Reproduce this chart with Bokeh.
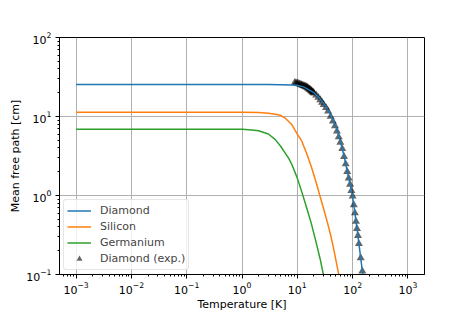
from bokeh.plotting import figure
from bokeh.models import Range1d, Legend, LegendItem, LogTicker
from bokeh.embed import file_html
from bokeh.resources import INLINE

# Diamond (model)
diamond_T = [0.001, 0.01, 0.1, 1, 3, 5, 8, 10, 13, 16, 20, 25, 30, 35, 40, 45, 50,
             60, 70, 80, 90, 100, 110, 120, 130, 140, 150, 160, 170]
diamond_L = [25.4, 25.4, 25.4, 25.4, 25.4, 25.3, 25.1, 24.8, 23.7, 21.9, 20.0, 17.2,
             14.6, 12.6, 10.5, 8.8, 7.4, 4.9, 3.16, 2.02, 1.38, 0.97, 0.60, 0.38,
             0.245, 0.162, 0.11, 0.076, 0.052]

# Silicon (model)
silicon_T = [0.001, 0.01, 0.1, 0.5, 1, 2, 3, 4, 5, 6, 8, 10, 12, 15, 18, 22, 26, 30,
             35, 40, 45, 50, 55, 60]
silicon_L = [11.3, 11.3, 11.3, 11.3, 11.3, 11.2, 11.0, 10.7, 10.35, 9.55, 7.85, 6.0,
             4.9, 3.3, 2.3, 1.45, 0.955, 0.676, 0.457, 0.316, 0.219, 0.151, 0.107, 0.078]

# Germanium (model)
germanium_T = [0.001, 0.01, 0.1, 0.5, 1, 1.5, 2, 3, 4, 5, 6, 7, 8, 10, 12, 15, 18, 22,
               26, 30, 34]
germanium_L = [6.9, 6.9, 6.9, 6.9, 6.88, 6.76, 6.6, 6.0, 5.1, 4.2, 3.47, 2.95, 2.45,
               1.66, 1.12, 0.676, 0.437, 0.251, 0.155, 0.0955, 0.063]

# Diamond (experiment)
exp_T = [9, 9.5, 10, 10.5, 11, 11.5, 12, 12.5, 13, 13.5, 14, 14.5, 15, 15.5, 16, 16.5,
         17, 17.5, 18, 18.5, 19, 19.5, 20, 22, 24, 26, 28, 30, 33, 36, 40, 44, 48, 52,
         56, 60, 65, 70, 75, 80, 85, 90, 95, 100, 105, 110, 115, 120, 125, 130, 140,
         150, 160]
exp_L = [26.9, 26.6, 26.3, 26.0, 25.7, 25.4, 25.1, 24.8, 24.5, 24.2, 24.0, 23.7, 23.4,
         23.0, 22.6, 22.2, 21.9, 21.5, 21.1, 20.7, 20.4, 20.0, 19.7, 18.6, 17.4, 16.2,
         15.1, 14.1, 12.9, 11.7, 10.0, 8.7, 7.6, 6.5, 5.5, 4.7, 3.9, 3.1, 2.5, 2.0, 1.66,
         1.38, 1.15, 0.98, 0.76, 0.60, 0.47, 0.38, 0.31, 0.245, 0.162, 0.110, 0.076]

x_label = "Temperature [K]"
y_label = "Mean free path [cm]"

p = figure(width=471, height=314, x_axis_type="log", y_axis_type="log",
           x_range=Range1d(10 ** -3.3, 10 ** 3.3), y_range=Range1d(0.1, 100),
           output_backend="svg", toolbar_location=None,
           min_border_left=59, min_border_right=47, min_border_top=37,
           min_border_bottom=40)

p.outline_line_color = "black"
p.outline_line_width = 1
p.background_fill_color = "white"
p.border_fill_color = "white"

for ax in (p.xaxis[0], p.yaxis[0]):
    ax.ticker = LogTicker(num_minor_ticks=10)
    ax.axis_line_color = "black"
    ax.major_tick_line_color = "black"
    ax.minor_tick_line_color = "black"
    ax.major_tick_out = 4
    ax.major_tick_in = 0
    ax.minor_tick_out = 2
    ax.minor_tick_in = 0
    ax.major_label_text_font = "DejaVu Sans"
    ax.major_label_text_font_size = "11px"
    ax.major_label_text_color = "black"
    ax.axis_label_text_font = "DejaVu Sans"
    ax.axis_label_text_font_size = "11px"
    ax.axis_label_text_font_style = "normal"
    ax.axis_label_text_color = "black"

p.xaxis.axis_label = x_label
p.yaxis.axis_label = y_label
p.xaxis.major_label_standoff = 3
p.xaxis.axis_label_standoff = 1
p.yaxis.major_label_standoff = 4
p.yaxis.axis_label_standoff = 1

p.xgrid.grid_line_color = "#b0b0b0"
p.ygrid.grid_line_color = "#b0b0b0"
p.xgrid.grid_line_width = 1
p.ygrid.grid_line_width = 1

r_exp = p.scatter(exp_T, exp_L, marker="triangle", size=8, color="black",
                  alpha=0.6, line_width=0)
r_d = p.line(diamond_T, diamond_L, line_color="#1f77b4", line_width=1.5)
r_s = p.line(silicon_T, silicon_L, line_color="#ff7f0e", line_width=1.5)
r_g = p.line(germanium_T, germanium_L, line_color="#2ca02c", line_width=1.5)

legend = Legend(items=[
    LegendItem(label="Diamond", renderers=[r_d]),
    LegendItem(label="Silicon", renderers=[r_s]),
    LegendItem(label="Germanium", renderers=[r_g]),
    LegendItem(label="Diamond (exp.)", renderers=[r_exp]),
], location="bottom_left")
legend.label_text_font = "DejaVu Sans"
legend.label_text_font_size = "11px"
legend.label_height = 15
legend.glyph_height = 15
legend.glyph_width = 24
legend.label_standoff = 9
legend.spacing = 1
legend.padding = 3
legend.margin = 4
legend.border_line_color = "#cccccc"
legend.border_radius = 3
legend.background_fill_alpha = 0.8
p.add_layout(legend)

open("out.html", "w").write(file_html(p, INLINE))
